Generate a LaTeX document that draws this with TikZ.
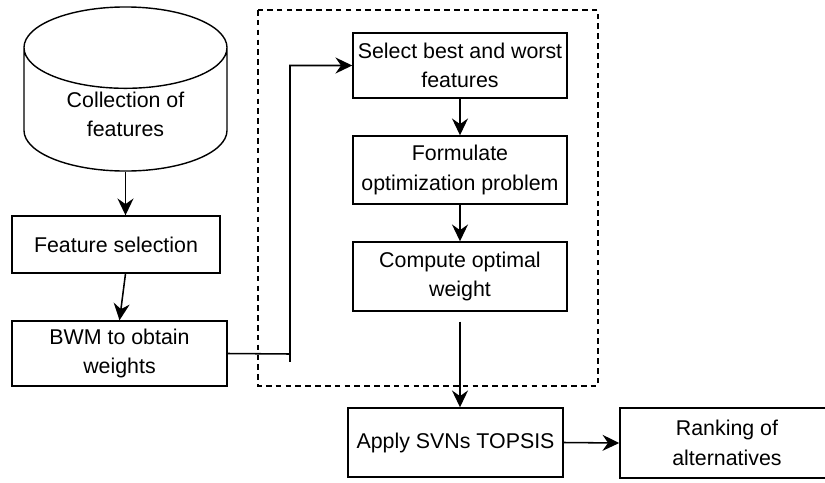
\documentclass[tikz,border=0pt]{standalone}
\usepackage{fontspec}
\setmainfont{Liberation Sans}
\usetikzlibrary{arrows.meta,shapes.geometric}

\begin{document}
\begin{tikzpicture}[x=0.025cm, y=-0.025cm,
    stepbox/.style={draw=black, line width=1pt, align=center, inner sep=2pt,
      font=\fontsize{15.2}{21}\selectfont},
    flow/.style={black, line width=1.1pt, -{Stealth[width=4mm, length=4.2mm, inset=1.4mm]}}]
    \useasboundingbox (0,0) rectangle (825,482);
    \clip (0,0) rectangle (825,482);

    % weighting block
    \draw [black, line width=1pt, dash pattern=on 4pt off 3pt] (258,10) rectangle (598,386);

    % left column
    \node [stepbox, cylinder, shape border rotate=90, aspect=0.66, anchor=shape center,
      minimum width=5.075cm, minimum height=2.8cm] (coll) at (125.5,89) {Collection of\\features};
    \node [stepbox, minimum width=5.2cm, minimum height=1.425cm] (fsel) at (116,244.5) {Feature selection};
    \node [stepbox, minimum width=5.375cm, minimum height=1.625cm] (bwm) at (119.5,353.5) {BWM to obtain\\weights};

    % inside the block
    \node [stepbox, minimum width=5.35cm, minimum height=1.625cm] (sel) at (460,65.5) {Select best and worst\\features};
    \node [stepbox, minimum width=5.35cm, minimum height=1.7cm] (form) at (460,170) {Formulate\\optimization problem};
    \node [stepbox, minimum width=5.35cm, minimum height=1.725cm] (comp) at (460,276.5) {Compute optimal\\weight};

    % bottom row
    \node [stepbox, minimum width=5.375cm, minimum height=1.725cm] (apply) at (455.5,442.5) {Apply SVNs TOPSIS};
    \node [stepbox, minimum width=5.35cm, minimum height=1.75cm] (rank) at (727,443) {Ranking of\\alternatives};

    % arrows
    \draw [flow] (coll.south) -- (coll.south |- fsel.north);
    \draw [flow] (fsel.south -| coll.south) -- (bwm.north);
    \coordinate (elbow) at (290,354);
    \draw [flow] (bwm.east) -- (elbow) -- (elbow |- sel.west) -- (sel.west);
    \draw [black, line width=1.1pt] (elbow) -- ++(0,8);
    \draw [flow] (sel) -- (form);
    \draw [flow] (form) -- (comp);
    \draw [flow] ([yshift=-0.25cm]comp.south) -- (comp.south |- apply.north);
    \draw [flow] (apply.east) -- (rank.west);
\end{tikzpicture}
\end{document}
